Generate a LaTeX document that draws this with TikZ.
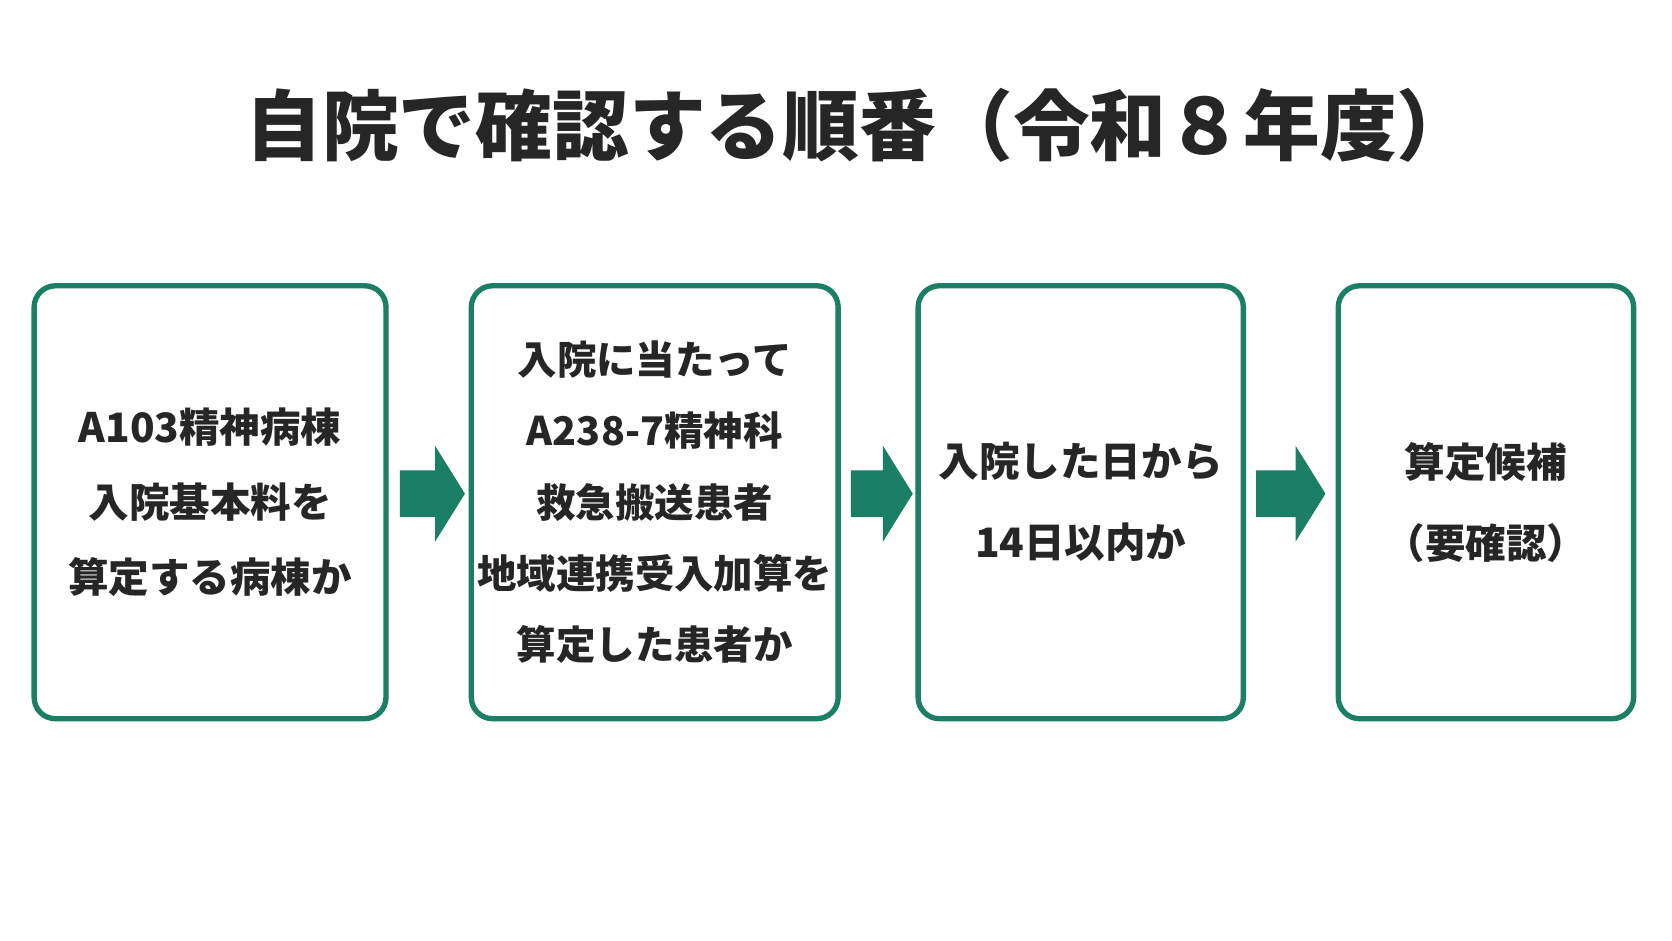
\documentclass[tikz,border=0pt]{standalone}
\usepackage{fontspec}
\setmainfont{Noto Sans CJK JP}
\usetikzlibrary{positioning}
\definecolor{stepgreen}{HTML}{1A7F64}

\begin{document}
\begin{tikzpicture}[x=0.5pt,y=-0.5pt]
  \tikzstyle{stepbox}=[draw=stepgreen, line width=2.5pt, rounded corners=10pt, fill=white,
    minimum height=203pt, align=center, text=black!85, inner sep=0pt,
    font=\bfseries\fontsize{19}{35}\selectfont]
  \tikzstyle{flow}=[fill=stepgreen, draw=none]
  \useasboundingbox (0,0) rectangle (1568,882);
  \fill[white] (0,0) rectangle (1568,882);

  \node[font=\bfseries\fontsize{36}{42}\selectfont, text=black!85] (title) at (806,118) {自院で確認する順番（令和８年度）};

  \node[stepbox, minimum width=165pt] (S_1) at (197,471) {A103精神病棟\\入院基本料を\\算定する病棟か};
  \node[stepbox, minimum width=172pt, font=\bfseries\fontsize{18.5}{33.5}\selectfont] (S_2) at (614,471) {入院に当たって\\A238-7精神科\\救急搬送患者\\地域連携受入加算を\\算定した患者か};
  \node[stepbox, minimum width=152.5pt, font=\bfseries\fontsize{19}{38}\selectfont] (S_3) at (1013.5,471) {入院した日から\\14日以内か};
  \node[stepbox, minimum width=138.5pt, font=\bfseries\fontsize{19}{38}\selectfont] (S_4) at (1393.5,471) {算定候補\\（要確認）};

  % arrows between the steps
  \foreach \xa/\xb in {375/436, 798/856, 1178/1243}{
    \fill[flow] (\xa,441) -- (\xb-28,441) -- (\xb-28,418) -- (\xb,463)
      -- (\xb-28,508) -- (\xb-28,485) -- (\xa,485) -- cycle;
  }
\end{tikzpicture}
\end{document}
